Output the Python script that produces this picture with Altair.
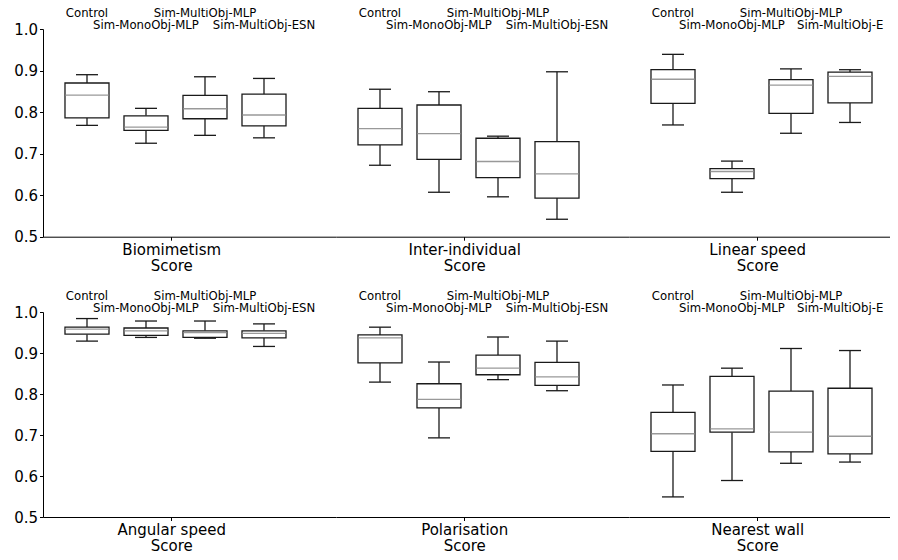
import altair as alt
import pandas as pd

methods = ["Control", "Sim-MonoObj-MLP", "Sim-MultiObj-MLP", "Sim-MultiObj-ESN"]
upper_labels = ["Control", "Sim-MultiObj-MLP"]
metrics = ["Biomimetism", "Inter-individual", "Linear speed",
           "Angular speed", "Polarisation", "Nearest wall"]
axis_title = "Score"

# five-number summaries per method: [low whisker, Q1, median, Q3, high whisker]
biomimetism = [[0.768, 0.786, 0.841, 0.870, 0.890],
               [0.725, 0.756, 0.764, 0.791, 0.809],
               [0.744, 0.784, 0.808, 0.840, 0.885],
               [0.738, 0.767, 0.793, 0.843, 0.881]]
inter_individual = [[0.672, 0.721, 0.760, 0.809, 0.855],
                    [0.607, 0.686, 0.748, 0.817, 0.849],
                    [0.596, 0.642, 0.681, 0.737, 0.742],
                    [0.542, 0.593, 0.651, 0.729, 0.897]]
linear_speed = [[0.769, 0.821, 0.879, 0.902, 0.939],
                [0.607, 0.640, 0.657, 0.664, 0.682],
                [0.749, 0.797, 0.865, 0.878, 0.904],
                [0.775, 0.822, 0.886, 0.896, 0.902]]
angular_speed = [[0.929, 0.946, 0.958, 0.963, 0.984],
                 [0.938, 0.943, 0.954, 0.961, 0.978],
                 [0.936, 0.938, 0.950, 0.954, 0.978],
                 [0.916, 0.937, 0.948, 0.954, 0.971]]
polarisation = [[0.829, 0.876, 0.937, 0.944, 0.963],
                [0.693, 0.766, 0.787, 0.825, 0.878],
                [0.835, 0.847, 0.863, 0.895, 0.939],
                [0.808, 0.821, 0.842, 0.877, 0.929]]
nearest_wall = [[0.549, 0.660, 0.703, 0.755, 0.822],
                [0.589, 0.707, 0.715, 0.843, 0.863],
                [0.631, 0.659, 0.707, 0.807, 0.911],
                [0.634, 0.654, 0.697, 0.814, 0.906]]

y_ticks = [0.5, 0.6, 0.7, 0.8, 0.9, 1.0]

summaries = [biomimetism, inter_individual, linear_speed,
             angular_speed, polarisation, nearest_wall]
rows = []
for metric, summ in zip(metrics, summaries):
    for method, (lo, q1, med, q3, hi) in zip(methods, summ):
        rows.append(dict(metric=metric, method=method, lo=lo, q1=q1,
                         med=med, q3=q3, hi=hi))
df = pd.DataFrame(rows)

EDGE = "#1a1a1a"
MED = "#999999"
SW = 1.3
FONT = "DejaVu Sans"
BAND_W = 250.0      # width of the category band holding the four boxes
BAND_START = 3.7    # band start from the panel's left edge
SUB_PAD_OUT = 0.2456
SUB_ALIGN = 0.631


def panel(metric, show_y, width, height, clip_last):
    po = (width / BAND_W - 1) / 2
    al = BAND_START / (width - BAND_W)
    base = alt.Chart(df).transform_filter(alt.datum.metric == metric)
    x = alt.X("metric:N",
              scale=alt.Scale(paddingInner=0, paddingOuter=po, align=al),
              axis=alt.Axis(title=None, labelAngle=0, labelPadding=2,
                            labelExpr="[datum.label, '%s']" % axis_title,
                            labelLineHeight=16, labelBaseline="top"))
    xo = alt.XOffset("method:N", sort=methods,
                     scale=alt.Scale(paddingInner=0.254,
                                     paddingOuter=SUB_PAD_OUT,
                                     align=SUB_ALIGN))
    yscale = alt.Scale(domain=[0.5, 1.0], nice=False, zero=False)
    if show_y:
        yaxis = alt.Axis(values=y_ticks, format=".1f", title=None,
                         labelPadding=2)
    else:
        yaxis = None
    y_lo = alt.Y("lo:Q", scale=yscale, axis=yaxis)

    whisk_lo = base.mark_rule(color=EDGE, strokeWidth=SW).encode(
        x=x, xOffset=xo, y=y_lo, y2="q1:Q")
    whisk_hi = base.mark_rule(color=EDGE, strokeWidth=SW).encode(
        x=x, xOffset=xo, y=alt.Y("q3:Q", scale=yscale), y2="hi:Q")
    box = base.mark_bar(fill="white", stroke=EDGE, strokeWidth=SW).encode(
        x=x, xOffset=xo, y=alt.Y("q1:Q", scale=yscale), y2="q3:Q")
    med = base.mark_tick(color=MED, thickness=SW, size=43, opacity=1).encode(
        x=x, xOffset=xo, y=alt.Y("med:Q", scale=yscale))
    cap_lo = base.mark_tick(color=EDGE, thickness=SW, size=22, opacity=1).encode(
        x=x, xOffset=xo, y=alt.Y("lo:Q", scale=yscale))
    cap_hi = base.mark_tick(color=EDGE, thickness=SW, size=22, opacity=1).encode(
        x=x, xOffset=xo, y=alt.Y("hi:Q", scale=yscale))

    txt = dict(font=FONT, fontSize=11.7, color="black", baseline="alphabetic")
    lab_up = base.transform_filter(
        alt.FieldOneOfPredicate(field="method", oneOf=upper_labels)
    ).mark_text(**txt).encode(
        x=x, xOffset=xo, y=alt.value(-12), text="method:N")
    layers = [whisk_lo, whisk_hi, box, med, cap_lo, cap_hi, lab_up]
    if clip_last:
        # the right-most panel's last label runs off the figure's edge
        lab_mono = base.transform_filter(
            alt.datum.method == methods[1]
        ).mark_text(**txt).encode(
            x=x, xOffset=xo, y=alt.value(-0.5), text="method:N")
        lab_esn = base.transform_filter(
            alt.datum.method == methods[3]
        ).transform_calculate(
            shown="slice(datum.method, 0, -2)"
        ).mark_text(align="left", dx=-53, **txt).encode(
            x=x, xOffset=xo, y=alt.value(-0.5), text="shown:N")
        layers += [lab_mono, lab_esn]
    else:
        lab_dn = base.transform_filter(
            ~alt.FieldOneOfPredicate(field="method", oneOf=upper_labels)
        ).mark_text(**txt).encode(
            x=x, xOffset=xo, y=alt.value(-0.5), text="method:N")
        layers.append(lab_dn)

    return alt.layer(*layers).properties(width=width, height=height)


widths = [293, 293, 261]
heights = [207.7, 205]
panels = [panel(m, i % 3 == 0, widths[i % 3], heights[i // 3], i % 3 == 2)
          for i, m in enumerate(metrics)]

chart = alt.concat(*panels, columns=3, spacing={"row": 75, "column": 0},
                   bounds="flush").properties(
    padding={"left": 5, "top": 0, "right": 0, "bottom": -2}
).configure_view(stroke=None).configure_axis(
    labelFont=FONT, titleFont=FONT, labelFontSize=15, titleFontSize=15,
    titleFontWeight="normal", labelColor="black", titleColor="black",
    domainColor="black", tickColor="black", grid=False, tickSize=3.5,
    domainWidth=1, tickWidth=1
)

chart.save("out.html", embed_options={"renderer": "svg", "actions": False})
